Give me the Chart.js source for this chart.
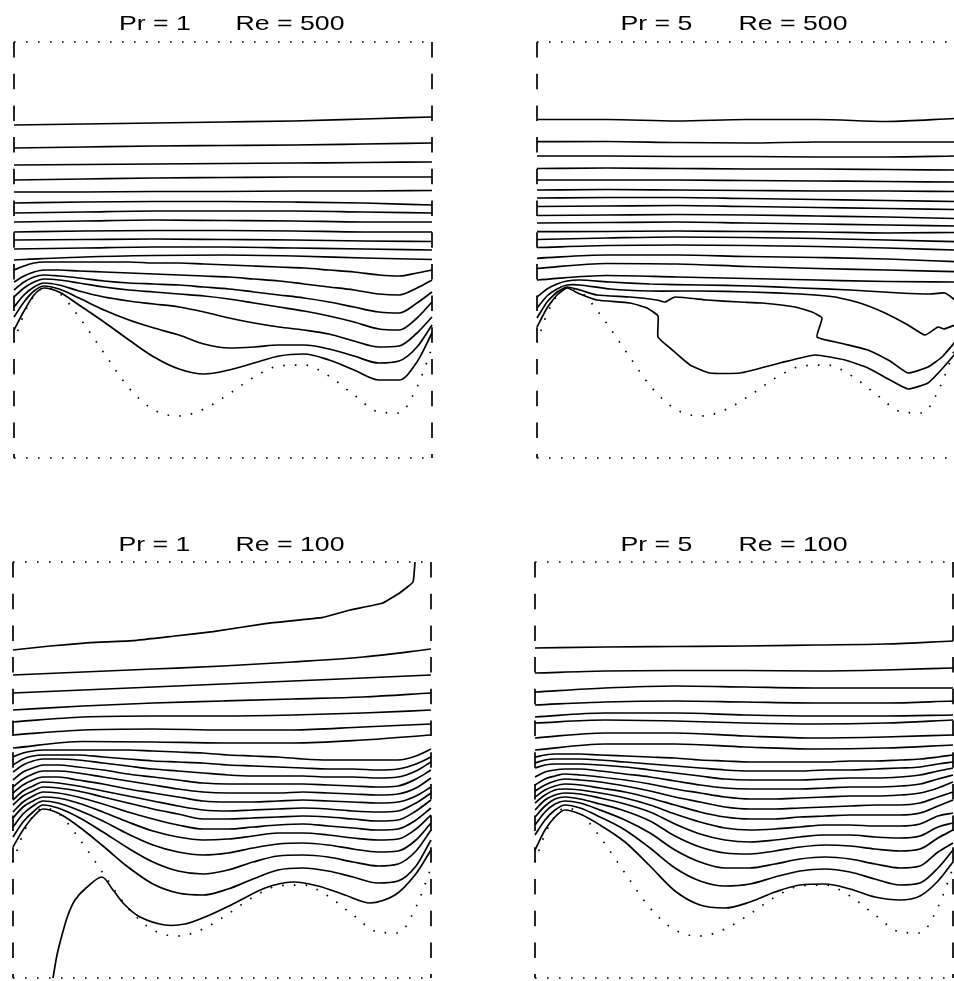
<!DOCTYPE html>
<html>
<head>
<meta charset="utf-8">
<script src="https://cdn.jsdelivr.net/npm/chart.js@4.4.1/dist/chart.umd.min.js"></script>
<style>
  html, body { margin: 0; padding: 0; background: #fff; width: 954px; height: 981px; overflow: hidden; }
  canvas { position: absolute; }
</style>
</head>
<body>
<canvas id="tl"></canvas>
<canvas id="tr"></canvas>
<canvas id="bl"></canvas>
<canvas id="br"></canvas>
<script>
// panel extent (same for all four panels), x to the right, depth measured down from the top edge
const xMax = 418;
const yMax = 416;

// sample positions used by the contours
const xFlat = [0, 70, 140, 210, 280, 350, 418];
const xWave = [0, 10, 20, 30, 45, 65, 90, 115, 140, 165, 190, 215, 240, 265, 290, 315, 340, 365, 385, 403, 418];

// wavy lower wall (dotted), depth at xWave
const wallDepth = [300, 272, 254, 246, 251, 275, 311, 346, 368, 374, 367, 352, 335, 324, 323, 334, 353, 370, 371, 345, 306];

// ---- Pr = 1, Re = 500 ----
const tlTitle = ['Pr = 1', 'Re = 500'];
const tlUpper = [
  [83, 82, 81, 80, 79, 77, 75],
  [106, 105, 104, 103.5, 103, 102, 101],
  [123, 122.5, 122, 121.5, 121, 120.5, 120],
  [138, 137, 136, 135.5, 135, 135, 135],
  [150, 150, 149.5, 149.5, 149, 149, 148.5],
  [161, 160, 159.5, 159.5, 160, 161, 163],
  [171, 170, 169, 169, 169, 170, 171],
  [180, 179, 178, 178.5, 179, 180, 180],
  [190, 189, 188.5, 188.5, 189, 190, 190],
  [198, 197.5, 197, 197.5, 198, 199, 199.5],
  [207, 206, 205, 205, 206, 207, 208],
  [218, 215, 213.5, 213, 214, 216, 217.5]
];
const tlLower = [
  [228, 224, 221, 220, 220, 220, 220, 220, 221, 221, 222, 223, 224, 225, 226, 228, 230, 233, 234, 231, 228],
  [240, 234, 230, 228, 228, 229, 230, 231, 232, 233, 234, 235, 237, 239, 242, 245, 248, 252, 253, 246, 238],
  [248, 240, 235, 233, 234, 236, 239, 241, 242, 243, 245, 247, 250, 253, 256, 260, 265, 270, 271, 261, 250],
  [255, 246, 240, 237, 238, 241, 245, 248, 250, 252, 254, 257, 261, 265, 269, 274, 280, 287, 288, 276, 260],
  [265, 253, 245, 241, 243, 249, 255, 259, 262, 265, 270, 276, 281, 285, 288, 292, 299, 305, 304, 291, 275],
  [275, 260, 249, 244, 247, 256, 268, 278, 286, 293, 302, 306, 305, 303, 303, 307, 314, 321, 319, 305, 283],
  [288, 269, 253, 246, 250, 263, 280, 298, 315, 327, 332, 328, 321, 314, 312, 318, 328, 338, 338, 320, 291]
];

// ---- Pr = 5, Re = 500 ----
const trTitle = ['Pr = 5', 'Re = 500'];
const trUpper = [
  [77.5, 77.5, 79, 77.5, 77.5, 79.5, 76.5],
  [99.7, 99.5, 100.5, 101, 100, 100, 100],
  [114, 114, 114.5, 114.5, 115, 115, 114],
  [126.5, 126, 126.5, 127, 127, 127.5, 128],
  [138, 138, 138, 138.5, 139, 139.5, 140],
  [148, 147.5, 148, 148.5, 149, 149, 149.5],
  [156, 155.5, 155.5, 156.5, 157.5, 158.5, 159.5],
  [164.5, 164, 163.5, 164.5, 165.5, 166.5, 167.5],
  [173.5, 173, 172.5, 173, 174, 175, 176.5],
  [181, 180.5, 180, 181, 182, 183, 184],
  [189.7, 189.5, 189, 189.5, 190, 191, 190.5],
  [197.5, 196, 195, 195.5, 196.5, 198, 199.7],
  [205.5, 203.5, 203, 203.5, 204.5, 206, 208],
  [216.3, 213, 213, 214.5, 215.5, 217, 219.7],
  [226.5, 221.5, 222, 224.5, 226.5, 228, 229.7],
  [238, 233.5, 235, 236.5, 238, 239.5, 240]
];
const trFree = [
  [[0, 255], [10, 247], [20, 242], [30, 239], [43, 238], [73, 240], [113, 242], [163, 243], [213, 244], [263, 246], [313, 248], [363, 251], [393, 252], [408, 251], [418, 258]],
  [[0, 266], [10, 254], [20, 247], [30, 243], [43, 243], [73, 247], [113, 249], [163, 249], [213, 250], [263, 252], [298, 255], [323, 261], [348, 271], [371, 283], [388, 293], [401, 285], [407, 287], [418, 283]],
  [[0, 276], [10, 260], [20, 250], [30, 245], [43, 248], [60, 253], [93, 255], [120, 258], [128, 260], [138, 255], [170, 258], [203, 260], [225, 261], [258, 265], [275, 270], [285, 276], [280, 295], [303, 301], [331, 308], [353, 319], [371, 331], [391, 325], [405, 315], [418, 300]],
  [[0, 285], [10, 266], [20, 253], [30, 246], [43, 252], [60, 258], [93, 261], [110, 266], [121, 274], [121, 295], [133, 306], [153, 323], [173, 331], [203, 331], [243, 321], [278, 313], [308, 318], [331, 326], [353, 338], [371, 347], [391, 341], [405, 327], [418, 312]]
];

// ---- Pr = 1, Re = 100 ----
const blTitle = ['Pr = 1', 'Re = 100'];
const blTop = [[0, 88], [37, 84], [77, 80.7], [120, 78.7], [162, 74], [200, 69.7], [254, 61.3], [310, 55.3], [337, 48], [369, 41.3], [387, 30.7], [400, 20], [402, 0]];
const blUpper = [
  [113, 110, 107, 104, 100, 95, 87],
  [131, 128, 125, 122, 119, 116, 113],
  [148, 144, 141, 139, 137, 135, 131],
  [160, 155, 154, 154, 153, 151, 148],
  [173, 168, 167, 168, 168, 165, 162],
  [186, 179.5, 180, 181, 181, 178, 173]
];
const blLower = [
  [195, 191, 189, 188, 188, 188, 188, 188, 189, 190, 191, 193, 194, 195, 197, 198, 198, 198, 198, 194, 187],
  [203, 197, 194, 193, 193, 193, 195, 197, 199, 200, 201, 203, 204, 205, 206, 207, 207, 208, 207, 202, 195],
  [210, 203, 199, 197, 197, 198, 201, 204, 207, 209, 211, 213, 214, 214, 214, 215, 215, 216, 215, 209, 200],
  [218, 210, 206, 203, 203, 205, 208, 212, 215, 218, 221, 222, 222, 222, 222, 223, 224, 225, 224, 217, 208],
  [225, 217, 212, 209, 209, 211, 215, 219, 223, 227, 230, 231, 231, 231, 230, 231, 232, 233, 232, 226, 216],
  [231, 223, 218, 215, 215, 218, 222, 227, 231, 235, 239, 240, 240, 239, 238, 239, 240, 241, 240, 234, 225],
  [238, 229, 224, 220, 221, 224, 229, 234, 239, 244, 248, 249, 248, 247, 246, 247, 249, 250, 249, 241, 231],
  [243, 234, 229, 225, 226, 229, 235, 241, 247, 252, 257, 257, 256, 255, 254, 255, 257, 259, 258, 249, 238],
  [250, 240, 234, 230, 231, 235, 242, 250, 257, 263, 267, 267, 265, 263, 262, 264, 266, 268, 267, 258, 246],
  [256, 245, 239, 235, 236, 241, 250, 260, 269, 275, 278, 277, 274, 271, 271, 273, 276, 278, 277, 267, 253],
  [265, 252, 244, 239, 241, 248, 259, 272, 283, 290, 293, 291, 286, 282, 281, 283, 287, 290, 289, 278, 261],
  [275, 260, 250, 243, 246, 255, 270, 286, 300, 309, 312, 308, 300, 294, 293, 295, 300, 304, 302, 289, 268],
  [285, 268, 255, 247, 251, 264, 284, 305, 322, 331, 333, 327, 317, 308, 306, 309, 315, 321, 319, 304, 278]
];
const blBottom = [[40, 416], [44, 393], [49, 373], [55, 353], [62, 338], [73, 326], [89, 315], [100, 328], [112, 343], [127, 355], [152, 363], [172, 362], [192, 355], [222, 341], [252, 326], [280, 320], [305, 324], [332, 333], [357, 341], [382, 333], [402, 313], [418, 288]];

// ---- Pr = 5, Re = 100 ----
const brTitle = ['Pr = 5', 'Re = 100'];
const brUpper = [
  [86, 85, 84.5, 84, 83, 82, 79],
  [111, 109, 108.5, 108.5, 109, 108, 106],
  [130, 126, 124, 125, 126, 126, 126],
  [143, 140, 139, 140, 141, 141, 139],
  [155, 151, 151, 153, 154, 154, 153],
  [161, 158, 159, 161, 162, 161, 158],
  [176, 171, 171, 174, 176, 175, 173],
  [188, 182, 182, 185, 187, 186, 183]
];
const brLower = [
  [195, 193, 192, 192, 192, 193, 194, 195, 196, 198, 199, 200, 200, 200, 200, 199, 199, 198, 197, 195, 193],
  [201, 198, 197, 197, 197, 198, 200, 202, 204, 206, 208, 209, 209, 209, 208, 208, 207, 206, 205, 202, 200],
  [206, 203, 202, 202, 202, 203, 205, 208, 211, 214, 217, 218, 218, 218, 217, 216, 216, 215, 213, 209, 206],
  [215, 210, 208, 207, 207, 209, 212, 215, 219, 223, 226, 227, 227, 227, 226, 225, 225, 224, 222, 217, 213],
  [223, 217, 214, 212, 213, 215, 218, 222, 227, 231, 235, 237, 237, 236, 235, 234, 234, 233, 231, 226, 220],
  [229, 223, 219, 217, 218, 220, 224, 229, 235, 240, 245, 247, 247, 246, 245, 244, 243, 243, 241, 235, 230],
  [235, 228, 224, 222, 223, 226, 230, 236, 243, 250, 255, 257, 257, 255, 254, 253, 253, 253, 251, 244, 238],
  [241, 233, 228, 227, 228, 231, 236, 243, 252, 260, 266, 268, 267, 265, 263, 263, 264, 264, 262, 254, 251],
  [248, 238, 233, 231, 232, 236, 242, 250, 262, 272, 278, 280, 278, 275, 273, 273, 275, 276, 274, 265, 261],
  [255, 244, 237, 235, 237, 242, 249, 259, 274, 285, 291, 292, 289, 285, 283, 284, 287, 289, 287, 276, 268],
  [263, 250, 242, 239, 241, 248, 258, 271, 288, 300, 306, 306, 302, 297, 295, 297, 302, 306, 304, 290, 281],
  [273, 258, 248, 243, 246, 255, 268, 286, 306, 319, 324, 322, 315, 309, 307, 310, 317, 323, 321, 306, 288],
  [288, 268, 255, 248, 252, 263, 280, 304, 329, 343, 346, 340, 330, 323, 322, 327, 335, 338, 334, 319, 300]
];

const PAD = 4, HEAD = 40;

// draws the two pieces of each panel heading above the frame (the lettering is drawn a bit wide, as in the print)
const headingPlugin = {
  id: 'heading',
  afterDraw(chart, args, opts) {
    const { ctx, chartArea } = chart;
    ctx.save();
    ctx.font = '21px "Liberation Sans", Arial, sans-serif';
    ctx.fillStyle = '#000';
    ctx.textBaseline = 'alphabetic';
    opts.text.forEach((t, i) => {
      ctx.save();
      ctx.translate(chartArea.left + opts.dx[i], chartArea.top - opts.lift);
      ctx.scale(1.27, 1);
      ctx.fillText(t, 0, 0);
      ctx.restore();
    });
    ctx.restore();
  }
};

function toPoints(xs, ys) {
  return ys.map((y, i) => ({ x: xs[i], y: y }));
}
function pairPoints(list) {
  return list.map(p => ({ x: p[0], y: p[1] }));
}
function line(data, extra) {
  return Object.assign({
    data: data, showLine: true, pointRadius: 0, borderColor: '#000',
    borderWidth: 1.7, fill: false, clip: false, borderJoinStyle: 'round'
  }, extra || {});
}

function panel(id, left, top, heading, dx, lift, flatLines, waveLines, freeLines) {
  const cv = document.getElementById(id);
  cv.width = xMax + 2 * PAD;
  cv.height = yMax + HEAD + PAD;
  cv.style.left = (left - PAD) + 'px';
  cv.style.top = (top - HEAD) + 'px';

  const dots = { borderDash: [1.6, 10.4], borderWidth: 1.7, borderCapStyle: 'butt' };
  const dashes = { borderDash: [15.5, 16.2], borderWidth: 1.7 };
  const datasets = [
    line([{ x: 0, y: 0 }, { x: xMax, y: 0 }], dots),
    line([{ x: 0, y: yMax }, { x: xMax, y: yMax }], dots),
    line([{ x: 0, y: 0 }, { x: 0, y: yMax }], dashes),
    line([{ x: xMax, y: 0 }, { x: xMax, y: yMax }], dashes),
    line(toPoints(xWave, wallDepth), { borderDash: [1.6, 10.1], borderWidth: 1.7, cubicInterpolationMode: 'monotone' })
  ];
  flatLines.forEach(ys => datasets.push(line(toPoints(xFlat, ys), { cubicInterpolationMode: 'monotone' })));
  waveLines.forEach(ys => datasets.push(line(toPoints(xWave, ys), { cubicInterpolationMode: 'monotone' })));
  freeLines.forEach(f => datasets.push(line(pairPoints(f.pts), { tension: f.tension })));

  new Chart(cv, {
    type: 'scatter',
    data: { datasets: datasets },
    plugins: [headingPlugin],
    options: {
      responsive: false,
      animation: false,
      events: [],
      layout: { padding: { left: PAD, right: PAD, top: HEAD, bottom: PAD } },
      scales: {
        x: { type: 'linear', min: 0, max: xMax, display: false },
        y: { type: 'linear', min: 0, max: yMax, reverse: true, display: false }
      },
      plugins: {
        legend: { display: false },
        tooltip: { enabled: false },
        heading: { text: heading, dx: dx, lift: lift }
      }
    }
  });
}

panel('tl', 14, 42, tlTitle, [105, 221.5], 12, tlUpper, tlLower, []);
panel('tr', 537, 42, trTitle, [83.5, 201.5], 12, trUpper, [], trFree.map(p => ({ pts: p, tension: 0.15 })));
panel('bl', 13, 562, blTitle, [105.5, 222.5], 11.3, blUpper, blLower, [
  { pts: blTop, tension: 0.1 },
  { pts: blBottom, tension: 0.3 }
]);
panel('br', 535, 562, brTitle, [85.5, 203.5], 11.3, brUpper, brLower, []);
</script>
</body>
</html>
